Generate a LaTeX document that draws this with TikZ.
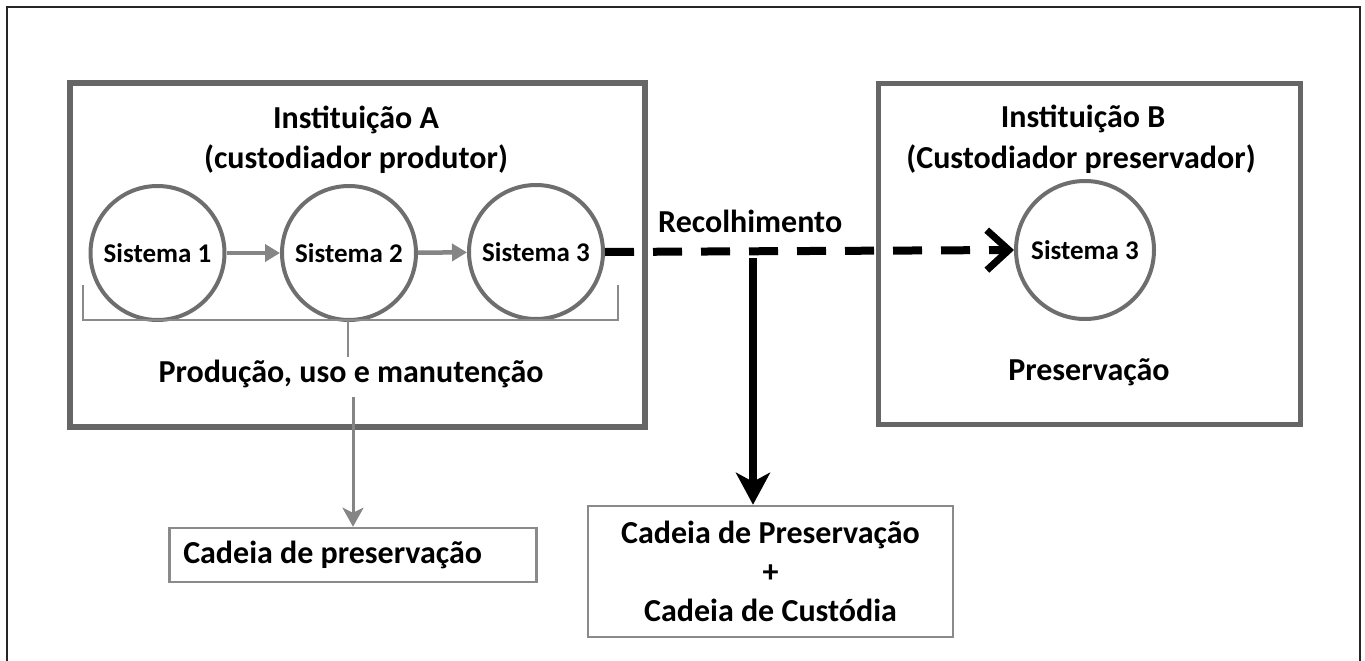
\documentclass[tikz,border=0pt]{standalone}
\usepackage{fontspec}
\setmainfont{Carlito}
\usetikzlibrary{arrows.meta}
\definecolor{boxgray}{HTML}{666666}
\definecolor{ringgray}{HTML}{6E6E6E}
\definecolor{thingray}{HTML}{8A8A8A}
\definecolor{arrgray}{HTML}{858585}
\begin{document}
\begin{tikzpicture}[x=1pt,y=-1pt,
  txt/.style={font=\fontsize{32}{39}\selectfont\bfseries, inner sep=0pt, anchor=base},
  sys/.style={circle, draw=ringgray, line width=4pt, minimum size=134pt, inner sep=0pt,
              font=\fontsize{27}{30}\selectfont\bfseries},
  inst/.style={draw=boxgray, rectangle, inner sep=0pt},
  bracketline/.style={draw=thingray, line width=2.2pt},
  chainbox/.style={draw=thingray, line width=2.5pt, rectangle, font=\fontsize{32}{39}\selectfont\bfseries},
  sysarrow/.style={draw=arrgray, line width=4.5pt, -{Triangle[length=15pt,width=17pt]}},
  downgray/.style={draw=arrgray, line width=3pt, -{Stealth[length=19pt,width=21pt,inset=5pt]}},
  downblack/.style={draw=black, line width=8pt, -{Stealth[length=32pt,width=34pt,inset=9pt]}},
  transfer/.style={draw=black, line width=8pt, dash pattern=on 29pt off 19pt,
                   -{Straight Barb[length=22pt,width=40pt,line width=7pt]}}
]
\useasboundingbox (0,0) rectangle (1365,661);
\fill[white] (0,0) rectangle (1365,661);
% outer frame
\draw[line width=1.6pt, black!85] (7,661) -- (7,7) -- (1360,7) -- (1360,661);

% Institution A
\node[inst, line width=6pt, minimum width=575pt, minimum height=344pt] (ia) at (357.5,255) {};
\node[txt] (ta1) at (356,128) {Instituição A};
\node[txt] (ta2) at (356,168) {(custodiador produtor)};
\node[sys] (s1) at (157.5,253) {Sistema 1};
\node[sys] (s2) at (349,253) {Sistema 2};
\node[sys] (s3) at (536,252) {Sistema 3};
\draw[sysarrow] (s1) -- (s2);
\draw[sysarrow] (s2) -- (s3);
% bracket
\coordinate (bl) at (83,285);
\coordinate (br) at (618,285);
\coordinate (bt) at (348,320);
\draw[bracketline] (bl) -- (bl |- bt) -- (br |- bt) -- (br);
\draw[bracketline] (bt) -- ++(0,37);
\node[txt] (prod) at (351,382) {Produção, uso e manutenção};

% Cadeia de preservação
\node[chainbox, anchor=west, minimum height=54pt, inner xsep=14pt, inner ysep=0pt]
  (cp) at (168,555) {\makebox[339pt][l]{Cadeia de preservação}};
\coordinate (g0) at (353,397);
\draw[downgray] (g0) -- (g0 |- cp.north);

% Institution B
\node[inst, line width=5pt, minimum width=422pt, minimum height=341pt] (ib) at (1089,253.5) {};
\node[txt] (tb1) at (1083,127) {Instituição B};
\node[txt] (tb2) at (1081,168) {(Custodiador preservador)};
\node[sys, minimum size=138pt] (sb) at (1085,250) {Sistema 3};
\node[txt] (pres) at (1089,380) {Preservação};

% Recolhimento
\node[txt, anchor=base west] (rec) at (658,232) {Recolhimento};
\draw[transfer] (s3.east) -- (sb.west);

% Cadeia de Preservação + Custódia
\node[chainbox, minimum width=365pt, minimum height=131pt, align=center, inner sep=0pt] (cpc)
  at (770.5,571.5) {Cadeia de Preservação\\+\\Cadeia de Custódia};
\coordinate (r0) at (753,258);
\draw[downblack] (r0) -- (r0 |- cpc.north);
\end{tikzpicture}
\end{document}
